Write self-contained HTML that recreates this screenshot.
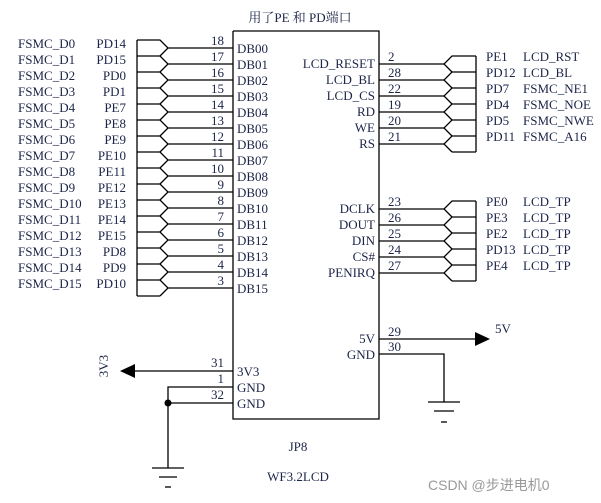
<!DOCTYPE html><html><head><meta charset="utf-8"><style>body{margin:0;background:#fff}svg{display:block}text{font-family:"Liberation Serif","Noto Serif CJK SC",serif;font-size:13px;fill:#1c2448}</style></head><body>
<svg id="s" width="601" height="503" xmlns="http://www.w3.org/2000/svg"></svg>
<script>
var s='',L=function(p){s+='<polyline points="'+p+'" fill="none" stroke="#000" stroke-width="1.3"/>'},
T=function(x,y,t,a,ex){s+='<text x="'+x+'" y="'+y+'"'+(a?' text-anchor="'+a+'"':'')+(ex||'')+'>'+t+'</text>'};
T(300,22,'用了PE 和 PD端口','middle');
L('233,31 379,31 379,419 233,419 233,31');
var fs=[],pd=['PD14','PD15','PD0','PD1','PE7','PE8','PE9','PE10','PE11','PE12','PE13','PE14','PE15','PD8','PD9','PD10'],pn=[18,17,16,15,14,13,12,11,10,9,8,7,6,5,4,3];
L('137,40 137,296');
for(var i=0;i<16;i++){var y=48+16*i;
L('137,'+(y-8)+' 160,'+(y-8)+' 168,'+y+' 160,'+(y+8));L('168,'+y+' 233,'+y);
T(18,y-0,'FSMC_D'+i);T(126,y,pd[i],'end');T(224,y-3,pn[i],'end');T(237,y+5,'DB'+(i<10?'0':'')+i);}
L('160,296 137,296');
function rg(y0,n,lb,num,p1,p2){L('476,'+(y0-8)+' 476,'+(y0+16*n-8));
for(var i=0;i<n;i++){var y=y0+16*i;L('379,'+y+' 444,'+y);L('476,'+(y-8)+' 452,'+(y-8)+' 444,'+y+' 452,'+(y+8));
T(375,y+4,lb[i],'end');T(388,y-3,num[i]);T(486,y-3,p1[i]);T(523,y-3,p2[i]);}
L('452,'+(y0+16*n-8)+' 476,'+(y0+16*n-8));}
rg(64,6,['LCD_RESET','LCD_BL','LCD_CS','RD','WE','RS'],[2,28,22,19,20,21],['PE1','PD12','PD7','PD4','PD5','PD11'],['LCD_RST','LCD_BL','FSMC_NE1','FSMC_NOE','FSMC_NWE','FSMC_A16']);
rg(209,5,['DCLK','DOUT','DIN','CS#','PENIRQ'],[23,26,25,24,27],['PE0','PE3','PE2','PD13','PE4'],['LCD_TP','LCD_TP','LCD_TP','LCD_TP','LCD_TP']);
L('379,339 476,339');s+='<polygon points="475,332 490,339 475,346" fill="#000"/>';T(495,333,'5V');
T(375,343,'5V','end');T(388,336,'29');T(375,359,'GND','end');T(388,351,'30');
L('379,354 444,354 444,402');L('428,402 460,402');L('434,411 454,411');L('441,422 447,422');
L('233,371 135,371');s+='<polygon points="135,364 120,371 135,378" fill="#000"/>';
T(112,370,'3V3','middle',' transform="rotate(-90 108 370)"');
T(224,367,'31','end');T(237,376,'3V3');T(224,383,'1','end');T(237,392,'GND');T(224,399,'32','end');T(237,408,'GND');
L('233,387 168,387 168,468');L('233,403 168,403');s+='<circle cx="168" cy="403" r="3.5" fill="#000"/>';
L('152,468 184,468');L('159,477 177,477');L('165,487 171,487');
T(298,451,'JP8','middle');T(298,481,'WF3.2LCD','middle');
s+='<text x="428" y="490" style="font-family:Liberation Sans,Noto Sans CJK SC,sans-serif;fill:#999;font-size:14px">CSDN @步进电机0</text>';
document.getElementById('s').innerHTML=s;
</script></body></html>
